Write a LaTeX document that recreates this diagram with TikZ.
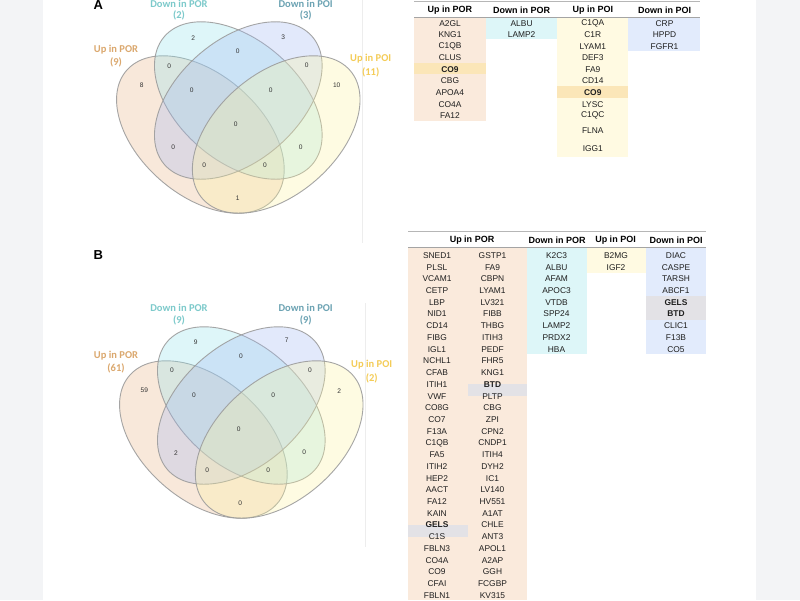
\documentclass[tikz,border=0pt]{standalone}
\usepackage{fontspec}
\setmainfont{Liberation Sans}
\newfontfamily\carl{Carlito}
\definecolor{bgstrip}{HTML}{F3F4F6}
\definecolor{vennline}{HTML}{9C9C9C}
\definecolor{cPeach}{HTML}{EBB687}
\definecolor{cCyan}{HTML}{94E4EE}
\definecolor{cBlue}{HTML}{A2B9F2}
\definecolor{cYellow}{HTML}{FCF5A2}
\definecolor{labPOR}{HTML}{DBA86E}
\definecolor{labDPOR}{HTML}{7DCACB}
\definecolor{labDPOI}{HTML}{6CA3B3}
\definecolor{labPOI}{HTML}{F4CC57}
\definecolor{tPeach}{HTML}{FAEADC}
\definecolor{tCyan}{HTML}{DDF6F8}
\definecolor{tYellow}{HTML}{FFFAE2}
\definecolor{tBlue}{HTML}{E2EBFC}
\definecolor{tHi}{HTML}{FBE6B8}
\definecolor{tGray}{HTML}{E3E2E6}
\definecolor{numgray}{HTML}{333333}
\definecolor{rulegray}{HTML}{A4A4A4}
\newcommand\cellfnt{\fontsize{8.4}{9}\selectfont}
\newcommand\hdrfnt{\fontsize{9}{10}\selectfont\bfseries}
\newcommand\cntfnt{\fontsize{6.6}{7}\selectfont}
\newcommand\labfnt{\carl\fontsize{10.5}{12.5}\selectfont\bfseries}
\newcommand\fourellipses{%
 \draw[venn,fill=cPeach,rotate around={-45:(-35.6,134.5)}] (-35.6,134.5) ellipse [x radius=94.5,y radius=58.8];
 \draw[venn,fill=cCyan,rotate around={-45:(0,100.5)}] (0,100.5) ellipse [x radius=94.5,y radius=58.8];
 \draw[venn,fill=cBlue,rotate around={45:(0,100.5)}] (0,100.5) ellipse [x radius=94.5,y radius=58.8];
 \draw[venn,fill=cYellow,rotate around={45:(35.6,134.5)}] (35.6,134.5) ellipse [x radius=94.5,y radius=58.8];
}
\tikzset{
 venn/.style={draw=vennline,line width=0.9pt,fill opacity=0.3,draw opacity=0.9},
 cnt/.style={font=\cntfnt,text=numgray,inner sep=0pt},
 cell/.style={font=\cellfnt,text=black!88,inner sep=0pt},
 hdr/.style={font=\hdrfnt,inner sep=0pt},
 setlab/.style={font=\labfnt,inner sep=0pt},
 panel/.style={font=\fontsize{13}{13}\selectfont\bfseries,inner sep=0pt},
 toprule/.style={draw=rulegray!80,line width=0.8pt},
 midrule/.style={draw=rulegray,line width=1.3pt},
 faint/.style={draw=black!7,line width=0.6pt}
}
\begin{document}
\begin{tikzpicture}[x=1pt,y=-1pt]
\useasboundingbox (0,0) rectangle (800,600);
\fill[white] (0,0) rectangle (800,600);
\fill[bgstrip] (0,0) rectangle (42.5,600);
\fill[bgstrip] (756,0) rectangle (800,600);
\draw[faint] (362.5,0) -- (362.5,243);
\draw[faint] (365,303) -- (365,547);

% ---------------- Panel A Venn ----------------
\node[panel] (pA) at (98.3,5.5) {A};
\begin{scope}[shift={(238.3,0)},xscale=1.065]
\fourellipses
\end{scope}
\node[setlab,text=labDPOR] (aL1a) at (179,4) {Down in POR};
\node[setlab,text=labDPOR] (aL1b) at (179,15.5) {(2)};
\node[setlab,text=labDPOI] (aL2a) at (305.7,4) {Down in POI};
\node[setlab,text=labDPOI] (aL2b) at (305.7,15.5) {(3)};
\node[setlab,text=labPOR] (aL3a) at (116,50) {Up in POR};
\node[setlab,text=labPOR] (aL3b) at (116,62.7) {(9)};
\node[setlab,text=labPOI] (aL4a) at (370.7,58.3) {Up in POI};
\node[setlab,text=labPOI] (aL4b) at (370.7,72) {(11)};
\node[cnt] (an1) at (193.3,38.3) {2};
\node[cnt] (an2) at (283.3,37.3) {3};
\node[cnt] (an3) at (237.7,51) {0};
\node[cnt] (an4) at (169.3,66) {0};
\node[cnt] (an5) at (306.7,65.7) {0};
\node[cnt] (an6) at (141.7,85.7) {8};
\node[cnt] (an7) at (336.7,85) {10};
\node[cnt] (an8) at (191.7,90.7) {0};
\node[cnt] (an9) at (270.7,90.7) {0};
\node[cnt] (an10) at (235.7,124) {0};
\node[cnt] (an11) at (173.3,147.3) {0};
\node[cnt] (an12) at (300.7,147.3) {0};
\node[cnt] (an13) at (204.3,165) {0};
\node[cnt] (an14) at (265,165) {0};
\node[cnt] (an15) at (237.7,198.3) {1};

% ---------------- Panel B Venn ----------------
\node[panel] (pB) at (98.3,255) {B};
\begin{scope}[shift={(241.3,305)},xscale=1.065]
\fourellipses
\end{scope}
\node[setlab,text=labDPOR] (bL1a) at (179,307.7) {Down in POR};
\node[setlab,text=labDPOR] (bL1b) at (179,320) {(9)};
\node[setlab,text=labDPOI] (bL2a) at (305.7,307.7) {Down in POI};
\node[setlab,text=labDPOI] (bL2b) at (305.7,320) {(9)};
\node[setlab,text=labPOR] (bL3a) at (116,355.7) {Up in POR};
\node[setlab,text=labPOR] (bL3b) at (116,368.3) {(61)};
\node[setlab,text=labPOI] (bL4a) at (371.7,365) {Up in POI};
\node[setlab,text=labPOI] (bL4b) at (371.7,378.3) {(2)};
\node[cnt] (bn1) at (195.7,342.7) {9};
\node[cnt] (bn2) at (286.7,340.7) {7};
\node[cnt] (bn3) at (241,356) {0};
\node[cnt] (bn4) at (172,370.7) {0};
\node[cnt] (bn5) at (310,370.7) {0};
\node[cnt] (bn6) at (144.3,390.7) {59};
\node[cnt] (bn7) at (339.3,390.7) {2};
\node[cnt] (bn8) at (194,395.7) {0};
\node[cnt] (bn9) at (273.3,395.7) {0};
\node[cnt] (bn10) at (238.7,429) {0};
\node[cnt] (bn11) at (176,453.3) {2};
\node[cnt] (bn12) at (304.3,452.7) {0};
\node[cnt] (bn13) at (207.3,470) {0};
\node[cnt] (bn14) at (268.3,470) {0};
\node[cnt] (bn15) at (240.3,503.3) {0};

% ---------------- Table A ----------------
\fill[tPeach] (414,17.3) rectangle (486,120.7);
\fill[tHi] (414,62.5) rectangle (486,74.1);
\fill[tCyan] (486,17.3) rectangle (557,39.3);
\fill[tYellow] (557,17.3) rectangle (628,156.7);
\fill[tHi] (557,86.3) rectangle (628,97.9);
\fill[tBlue] (628,17.3) rectangle (700,51);
\draw[toprule] (414,1.8) -- (700,1.8);
\draw[midrule] (414,17.3) -- (700,17.3);
\node[hdr] (ah1) at (449.8,10) {Up in POR};
\node[hdr] (ah2) at (521.6,10) {Down in POR};
\node[hdr] (ah3) at (592.8,10) {Up in POI};
\node[hdr] (ah4) at (664.5,10) {Down in POI};
\foreach \t [count=\i from 0] in {A2GL,KNG1,C1QB,CLUS,\textbf{CO9},CBG,APOA4,CO4A,FA12}
  \node[cell] (aa\i) at (450,23.3+11.55*\i) {\t};
\foreach \t [count=\i from 0] in {ALBU,LAMP2}
  \node[cell] (ab\i) at (521.6,23.3+11.55*\i) {\t};
\foreach \t [count=\i from 0] in {C1QA,C1R,LYAM1,DEF3,FA9,CD14,\textbf{CO9},LYSC,C1QC}
  \node[cell] (ac\i) at (592.8,23.3+11.55*\i) {\t};
\node[cell] (ac9) at (592.8,130.7) {FLNA};
\node[cell] (ac10) at (592.8,149) {IGG1};
\foreach \t [count=\i from 0] in {CRP,HPPD,FGFR1}
  \node[cell] (ad\i) at (664.5,23.3+11.55*\i) {\t};

% ---------------- Table B ----------------
\fill[tPeach] (408,247.5) rectangle (527,600);
\fill[tGray] (408,525.1) rectangle (467.5,536.9);
\fill[tGray] (467.5,384.2) rectangle (527,396);
\fill[tCyan] (527,247.5) rectangle (587,354.3);
\fill[tYellow] (587,247.5) rectangle (646,272.7);
\fill[tBlue] (646,247.5) rectangle (706,354.3);
\fill[tGray] (646,296.2) rectangle (706,319.6);
\draw[toprule] (408,231) -- (706,231);
\draw[midrule] (408,247.5) -- (706,247.5);
\node[hdr] (bh1) at (472,240.5) {Up in POR};
\node[hdr] (bh2) at (557,240.5) {Down in POR};
\node[hdr] (bh3) at (615.5,240.5) {Up in POI};
\node[hdr] (bh4) at (676,240.5) {Down in POI};
\foreach \t [count=\i from 0] in {SNED1,PLSL,VCAM1,CETP,LBP,NID1,CD14,FIBG,IGL1,NCHL1,CFAB,ITIH1,VWF,CO8G,CO7,F13A,C1QB,FA5,ITIH2,HEP2,AACT,FA12,KAIN,\textbf{GELS},C1S,FBLN3,CO4A,CO9,CFAI,FBLN1}
  \node[cell] (ba\i) at (437,255.5+11.72*\i) {\t};
\foreach \t [count=\i from 0] in {GSTP1,FA9,CBPN,LYAM1,LV321,FIBB,THBG,ITIH3,PEDF,FHR5,KNG1,\textbf{BTD},PLTP,CBG,ZPI,CPN2,CNDP1,ITIH4,DYH2,IC1,LV140,HV551,A1AT,CHLE,ANT3,APOL1,A2AP,GGH,FCGBP,KV315}
  \node[cell] (bb\i) at (492.5,255.5+11.72*\i) {\t};
\foreach \t [count=\i from 0] in {K2C3,ALBU,AFAM,APOC3,VTDB,SPP24,LAMP2,PRDX2,HBA}
  \node[cell] (bc\i) at (556.5,255.5+11.72*\i) {\t};
\foreach \t [count=\i from 0] in {B2MG,IGF2}
  \node[cell] (bd\i) at (616,255.5+11.72*\i) {\t};
\foreach \t [count=\i from 0] in {DIAC,CASPE,TARSH,ABCF1,\textbf{GELS},\textbf{BTD},CLIC1,F13B,CO5}
  \node[cell] (be\i) at (676,255.5+11.72*\i) {\t};
\end{tikzpicture}
\end{document}
